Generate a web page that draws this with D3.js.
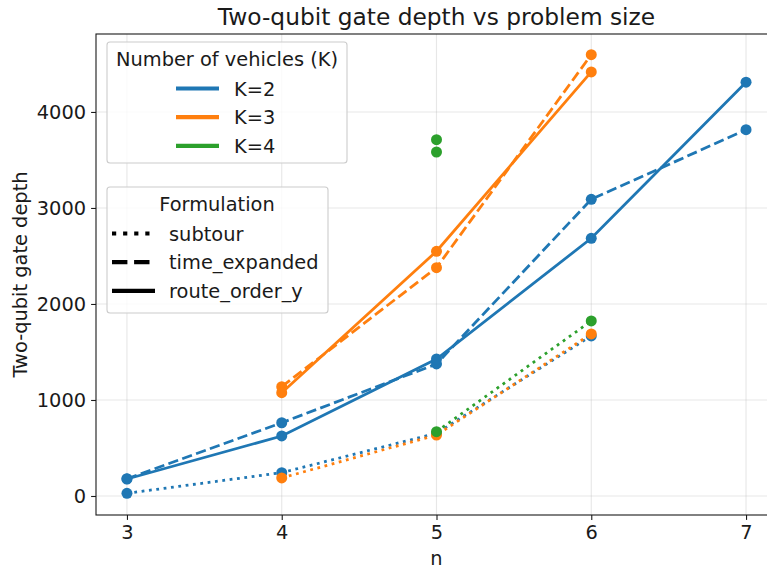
<!DOCTYPE html>
<html lang="en">
<head>
<meta charset="UTF-8">
<title>Two-qubit gate depth vs problem size</title>
<script src="https://cdn.jsdelivr.net/npm/d3@7"></script>
<style>
  body { margin: 0; background: #fff; }
  svg { font-family: "DejaVu Sans", sans-serif; fill: #1a1a1a; }
</style>
</head>
<body>
<script>
// problem size on x, gate depth per vehicle count and formulation
var nValues = [3, 4, 5, 6, 7]
var xTicks = [3, 4, 5, 6, 7]
var yTicks = [0, 1000, 2000, 3000, 4000]

var vehicles = ['K=2', 'K=3', 'K=4']
var formulations = ['subtour', 'time_expanded', 'route_order_y']

// null = not run for that n
var k2Subtour = [28, 243, 653, 1667, null]
var k2TimeExpanded = [180, 763, 1375, 3090, 3815]
var k2RouteOrder = [177, 625, 1427, 2684, 4310]
var k3Subtour = [null, 188, 635, 1688, null]
var k3TimeExpanded = [null, 1139, 2378, 4597, null]
var k3RouteOrder = [null, 1076, 2549, 4417, null]
var k4Subtour = [null, null, 670, 1823, null]
var k4TimeExpanded = [null, null, 3583, null, null]
var k4RouteOrder = [null, null, 3711, null, null]

var series = [
    {k: 'K=2', f: 'subtour', values: k2Subtour},
    {k: 'K=2', f: 'time_expanded', values: k2TimeExpanded},
    {k: 'K=2', f: 'route_order_y', values: k2RouteOrder},
    {k: 'K=3', f: 'subtour', values: k3Subtour},
    {k: 'K=3', f: 'time_expanded', values: k3TimeExpanded},
    {k: 'K=3', f: 'route_order_y', values: k3RouteOrder},
    {k: 'K=4', f: 'subtour', values: k4Subtour},
    {k: 'K=4', f: 'time_expanded', values: k4TimeExpanded},
    {k: 'K=4', f: 'route_order_y', values: k4RouteOrder}
]

var width = 767
    height = 571
    margin = {top: 34, left: 96, bottom: 56}
    plotRight = 777
    fontSize = 19.4

var colors = d3.scaleOrdinal().domain(vehicles).range(['#1f77b4', '#ff7f0e', '#2ca02c'])
var dashes = {subtour: '2.8,4.6', time_expanded: '10.3,4.4', route_order_y: null}
var legendDashes = {subtour: '4.2,6.9', time_expanded: '15.4,6.7', route_order_y: null}

var svg = d3.select('body')
    .append('svg')
    .attr('width', width)
    .attr('height', height)

var xScale = d3.scaleLinear()
    .domain([2.8, 7.2])
    .range([margin.left, plotRight])
var yScale = d3.scaleLinear()
    .domain([-198, 4812])
    .range([height - margin.bottom, margin.top])

// grid
svg.append('g')
    .selectAll('line')
    .data(xTicks)
    .enter()
    .append('line')
    .attr('x1', d => xScale(d)).attr('x2', d => xScale(d))
    .attr('y1', margin.top).attr('y2', height - margin.bottom)
    .attr('stroke', '#b0b0b0').attr('stroke-opacity', 0.3).attr('stroke-width', 1.1)
svg.append('g')
    .selectAll('line')
    .data(yTicks)
    .enter()
    .append('line')
    .attr('x1', margin.left).attr('x2', plotRight)
    .attr('y1', d => yScale(d)).attr('y2', d => yScale(d))
    .attr('stroke', '#b0b0b0').attr('stroke-opacity', 0.3).attr('stroke-width', 1.1)

// series
var line = d3.line()
    .defined(d => d.y != null)
    .x(d => xScale(d.x))
    .y(d => yScale(d.y))

series.forEach(s => {
    var pts = s.values.map((v, i) => ({x: nValues[i], y: v}))
    svg.append('path')
        .datum(pts)
        .attr('d', line)
        .attr('fill', 'none')
        .attr('stroke', colors(s.k))
        .attr('stroke-width', 2.78)
        .attr('stroke-dasharray', dashes[s.f])
    svg.append('g')
        .selectAll('circle')
        .data(pts.filter(d => d.y != null))
        .enter()
        .append('circle')
        .attr('cx', d => xScale(d.x))
        .attr('cy', d => yScale(d.y))
        .attr('r', 5.5)
        .attr('fill', colors(s.k))
})

// axes
var xAxis = d3.axisBottom(xScale).tickValues(xTicks).tickFormat(d3.format('d')).tickSize(4.9).tickPadding(5)
var yAxis = d3.axisLeft(yScale).tickValues(yTicks).tickFormat(d3.format('d')).tickSize(4.9).tickPadding(5)

var gx = svg.append('g')
    .attr('transform', `translate(0, ${height - margin.bottom})`)
    .call(xAxis)
var gy = svg.append('g')
    .attr('transform', `translate(${margin.left}, 0)`)
    .call(yAxis)
;[gx, gy].forEach(g => {
    g.select('.domain').remove()
    g.selectAll('.tick line').attr('stroke', '#1a1a1a').attr('stroke-width', 1.1)
    g.selectAll('.tick text').attr('font-size', fontSize).attr('fill', '#1a1a1a')
        .attr('font-family', '"DejaVu Sans", sans-serif')
})

// frame
svg.append('rect')
    .attr('x', margin.left).attr('y', margin.top)
    .attr('width', plotRight - margin.left)
    .attr('height', height - margin.bottom - margin.top)
    .attr('fill', 'none').attr('stroke', '#1a1a1a').attr('stroke-width', 1.1)

// labels
svg.append('text')
    .attr('x', (margin.left + plotRight) / 2).attr('y', 25)
    .attr('text-anchor', 'middle').attr('font-size', 23.3)
    .text('Two-qubit gate depth vs problem size')
svg.append('text')
    .attr('x', (margin.left + plotRight) / 2).attr('y', 565)
    .attr('text-anchor', 'middle').attr('font-size', fontSize)
    .text('n')
svg.append('text')
    .attr('transform', `translate(27, ${(margin.top + height - margin.bottom) / 2}) rotate(-90)`)
    .attr('text-anchor', 'middle').attr('font-size', fontSize)
    .text('Two-qubit gate depth')

// legend boxes
function legend(x, y, w, h, title, titleX, items, handleX, textX) {
    var g = svg.append('g')
    g.append('rect')
        .attr('x', x).attr('y', y).attr('width', w).attr('height', h)
        .attr('rx', 3).attr('fill', '#fff').attr('fill-opacity', 0.8)
        .attr('stroke', '#cccccc').attr('stroke-width', 1.1)
    g.append('text')
        .attr('x', titleX).attr('y', y + 24)
        .attr('text-anchor', 'middle').attr('font-size', fontSize)
        .text(title)
    items.forEach((it, i) => {
        var cy = y + 46.5 + i * 28.7
        g.append('line')
            .attr('x1', handleX).attr('x2', handleX + 43)
            .attr('y1', cy).attr('y2', cy)
            .attr('stroke', it.color).attr('stroke-width', 4.2)
            .attr('stroke-dasharray', it.dash)
        g.append('text')
            .attr('x', textX).attr('y', cy + 7)
            .attr('font-size', fontSize)
            .text(it.label)
    })
}

legend(107, 42, 240, 121, 'Number of vehicles (K)', 227,
    vehicles.map(k => ({label: k, color: colors(k), dash: null})), 176, 234)
legend(107, 187, 221, 126, 'Formulation', 217,
    formulations.map(f => ({label: f, color: '#000', dash: legendDashes[f]})), 112, 169)
</script>
</body>
</html>
